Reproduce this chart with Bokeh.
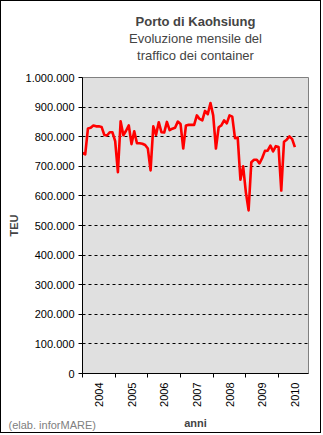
import math
from bokeh.plotting import figure
from bokeh.models import FixedTicker, Title, ColumnDataSource, Range1d
from bokeh.embed import file_html
from bokeh.resources import INLINE

# Monthly TEU, Jan 2004 .. Jul 2010
teu_2004 = [745000, 740000, 828000, 830000, 838000, 835000, 835000, 833000, 806000, 804000, 815000, 815000]
teu_2005 = [785000, 680000, 852000, 805000, 820000, 838000, 775000, 818000, 778000, 778000, 776000, 772000]
teu_2006 = [760000, 686000, 835000, 806000, 849000, 815000, 814000, 850000, 822000, 827000, 830000, 851000]
teu_2007 = [843000, 760000, 838000, 840000, 840000, 840000, 872000, 860000, 855000, 887000, 876000, 914000]
teu_2008 = [872000, 760000, 832000, 838000, 855000, 845000, 872000, 868000, 795000, 797000, 655000, 700000]
teu_2009 = [612000, 551000, 714000, 722000, 722000, 710000, 728000, 752000, 753000, 770000, 750000, 768000]
teu_2010 = [765000, 618000, 783000, 790000, 801000, 792000, 765000]

years = ["2004", "2005", "2006", "2007", "2008", "2009", "2010"]
y_ticks = [0, 100000, 200000, 300000, 400000, 500000, 600000, 700000, 800000, 900000, 1000000]
y_tick_labels = ["0", "100.000", "200.000", "300.000", "400.000", "500.000",
                 "600.000", "700.000", "800.000", "900.000", "1.000.000"]

title = "Porto di Kaohsiung"
subtitle1 = "Evoluzione mensile del"
subtitle2 = "traffico dei container"
x_label = "anni"
y_label = "TEU"
credit = "(elab. inforMARE)"

values = teu_2004 + teu_2005 + teu_2006 + teu_2007 + teu_2008 + teu_2009 + teu_2010
months = list(range(len(values)))

FONT = "Liberation Sans"

p = figure(width=321, height=433, output_backend="svg", toolbar_location=None,
           x_range=Range1d(0, 83), y_range=Range1d(0, 1000000),
           min_border_left=81, min_border_right=14, min_border_top=76, min_border_bottom=61,
           title=title)
p.styles = {"border": "1px solid black"}
p.background_fill_color = "#E0E0E0"
p.border_fill_color = "white"
p.outline_line_color = "#808080"
p.outline_line_width = 1

src = ColumnDataSource(data=dict(x=months, y=values))
p.line("x", "y", source=src, line_color="#FF0000", line_width=2.6, line_join="round")

# Titles: p.title is outermost, added ones stack outward from the frame
p.title.text_font = FONT
p.title.text_font_size = "13px"
p.title.text_font_style = "bold"
p.title.align = "center"
p.title.offset = -18
p.title.standoff = 0
# spacer between frame and subtitles
p.add_layout(Title(text=" ", text_font=FONT, text_font_size="13px", standoff=-2), "above")
p.add_layout(Title(text=subtitle2, text_font=FONT, text_font_size="13px",
                   text_font_style="normal", align="center", offset=-18, standoff=0), "above")
p.add_layout(Title(text=subtitle1, text_font=FONT, text_font_size="13px",
                   text_font_style="normal", align="center", offset=-18, standoff=0), "above")

# Y axis
p.yaxis.ticker = FixedTicker(ticks=y_ticks)
p.yaxis.major_label_overrides = {t: l for t, l in zip(y_ticks, y_tick_labels)}
p.yaxis.major_tick_out = 4
p.yaxis.major_tick_in = 0
p.yaxis.minor_tick_line_color = None
p.yaxis.axis_line_color = "black"
p.yaxis.major_label_text_font = FONT
p.yaxis.major_label_text_font_size = "11px"
p.yaxis.major_label_text_color = "black"
p.yaxis.major_label_standoff = 4
p.yaxis.axis_label = y_label
p.yaxis.axis_label_text_font = FONT
p.yaxis.axis_label_text_font_size = "11px"
p.yaxis.axis_label_text_font_style = "bold"
p.yaxis.axis_label_standoff = 3

# X axis: tick marks every 12 months, year labels between them
year_centers = [6 + 12 * i for i in range(len(years))]
year_starts = [12 * i for i in range(len(years))]
p.xaxis.ticker = FixedTicker(ticks=year_centers, minor_ticks=year_starts)
p.xaxis.major_label_overrides = {c: y for c, y in zip(year_centers, years)}
p.xaxis.major_tick_line_color = None
p.xaxis.major_tick_out = 0
p.xaxis.minor_tick_out = 4
p.xaxis.minor_tick_in = 0
p.xaxis.minor_tick_line_color = "black"
p.xaxis.axis_line_color = "black"
p.xaxis.major_label_orientation = math.pi / 2
p.xaxis.major_label_text_font = FONT
p.xaxis.major_label_text_font_size = "11px"
p.xaxis.major_label_text_color = "black"
p.xaxis.major_label_standoff = 5
p.xaxis.axis_label = x_label
p.xaxis.axis_label_text_font = FONT
p.xaxis.axis_label_text_font_size = "11px"
p.xaxis.axis_label_text_font_style = "bold"
p.xaxis.axis_label_standoff = 7

p.add_layout(Title(text=credit, text_font=FONT, text_font_size="11px",
                   text_font_style="normal", text_color="#808080",
                   align="left", vertical_align="top", offset=-74, standoff=-26), "below")

p.xgrid.grid_line_color = None
p.ygrid.ticker = FixedTicker(ticks=y_ticks[1:-1])
p.ygrid.grid_line_color = "black"
p.ygrid.grid_line_dash = "3 3"
p.ygrid.grid_line_width = 1

open("out.html", "w").write(file_html(p, INLINE))
